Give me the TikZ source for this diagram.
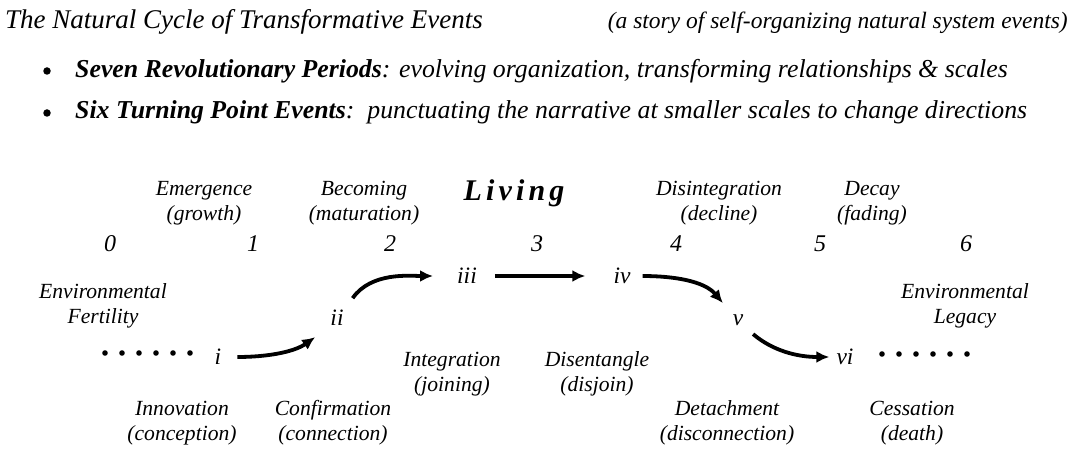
\documentclass[tikz,border=0pt]{standalone}
\usepackage{fontspec}
\setmainfont{Liberation Serif}
\usetikzlibrary{arrows.meta}

\begin{document}
\begin{tikzpicture}[x=1pt,y=-1pt,
            arrowstyle/.style={-{Latex[length=13pt,width=12pt]}, line width=3.8pt}]
            % Text styles
            \tikzstyle{labelnode} = [align=center, inner sep=0pt, font=\fontsize{21.6}{25}\selectfont\itshape]
            \tikzstyle{numnode} = [inner sep=0pt, font=\fontsize{24}{28}\selectfont\itshape]
            \tikzstyle{eventnode} = [inner sep=2pt, font=\fontsize{23.5}{28}\selectfont\itshape]
            \tikzstyle{bulletline} = [anchor=base west, inner sep=0pt, font=\fontsize{25.8}{30}\selectfont\itshape]
            \tikzstyle{bulletdot} = [circle, fill, inner sep=0pt, minimum size=7.5pt]
            \useasboundingbox (0,0) rectangle (1080,468);

            % Title and bullets
            \node (title) [anchor=base west, inner sep=0pt, font=\fontsize{27}{30}\selectfont\itshape] at (5,29) {The Natural Cycle of Transformative Events};
            \node (story) [anchor=base east, inner sep=0pt, font=\fontsize{23.5}{26}\selectfont\itshape] at (1068,29) {(a story of self-organizing natural system events)};
            \node (b1) [bulletdot] at (47,71) {};
            \node (periods) [bulletline] at (75,78) {\textbf{Seven Revolutionary Periods}: evolving organization, transforming relationships \& scales};
            \node (b2) [bulletdot] at (47,113) {};
            \node (turns) [bulletline] at (75,119) {\textbf{Six Turning Point Events}:\ \ punctuating the narrative at smaller scales to change directions};

            % Periods above
            \node (emerge) [labelnode] at (204,203) {Emergence\\(growth)};
            \node (become) [labelnode] at (364,203) {Becoming\\(maturation)};
            \node (living) [inner sep=0pt, font=\fontsize{30}{32}\selectfont\bfseries\itshape\addfontfeature{LetterSpace=14}] at (514,193) {Living};
            \node (disint) [labelnode] at (719,203) {Disintegration\\(decline)};
            \node (decay) [labelnode] at (872,203) {Decay\\(fading)};
            \node (fert) [labelnode] at (103,306) {Environmental\\Fertility};
            \node (legacy) [labelnode] at (965,306) {Environmental\\Legacy};

            % Period numbers
            \foreach \n/\x in {0/110,1/253,2/390,3/537,4/676,5/820,6/966}
                \node (p\n) [numnode] at (\x,244) {\n};

            % Turning points
            \node (i) [eventnode] at (218,357) {i};
            \node (ii) [eventnode] at (337,318) {ii};
            \node (iii) [eventnode] at (467,276) {iii};
            \node (iv) [eventnode] at (622,276) {iv};
            \node (v) [eventnode] at (738,320) {v};
            \node (vi) [eventnode] at (845,357) {vi};

            % Events below
            \node (integ) [labelnode] at (452,374) {Integration\\(joining)};
            \node (disent) [labelnode] at (597,374) {Disentangle\\(disjoin)};
            \node (innov) [labelnode] at (182,423) {Innovation\\(conception)};
            \node (confirm) [labelnode] at (333,423) {Confirmation\\(connection)};
            \node (detach) [labelnode] at (727,423) {Detachment\\(disconnection)};
            \node (cease) [labelnode] at (912,423) {Cessation\\(death)};

            % Dotted lead in and lead out
            \foreach \k in {0,...,5} {
                \fill (105+17*\k,353) circle (2.8pt);
                \fill (882+17*\k,354) circle (2.8pt);
            }

            % The arrows between turning points
            \draw [arrowstyle, shorten <=14pt, shorten >=16pt] (i.east) to[out=0, in=215] (ii.south west);
            \draw [arrowstyle, shorten <=12pt, shorten >=22pt] (ii.north east) to[out=55, in=180] (iii.west);
            \draw [arrowstyle, shorten <=16pt, shorten >=26pt] (iii.east) -- (iv.west);
            \draw [arrowstyle, shorten <=10pt, shorten >=12pt] (iv.east) to[out=0, in=130] (v.north west);
            \draw [arrowstyle, shorten <=10pt, shorten >=5pt] (v.south east) to[out=-40, in=180] (vi.west);
        \end{tikzpicture}
\end{document}
